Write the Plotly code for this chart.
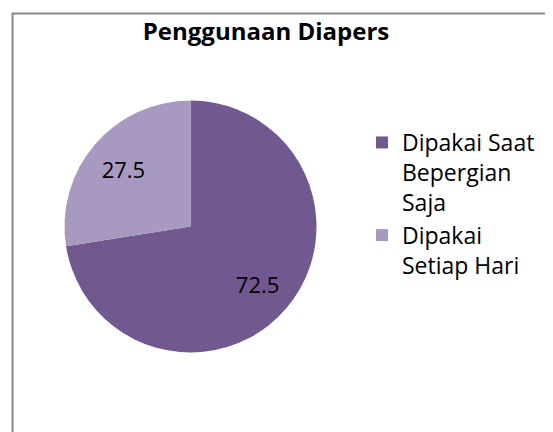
import textwrap
import plotly.graph_objects as go

# Penggunaan Diapers
kategori = ["Dipakai Saat Bepergian Saja", "Dipakai Setiap Hari"]
nilai = [72.5, 27.5]
warna = ["#71598F", "#A799BF"]

label_legend = ["<br>".join(textwrap.wrap(k, 12)) for k in kategori]

W, H = 553, 432
font = "Open Sans"
# posisi dalam piksel figure (halaman punya margin body 8px)
dom_x = [56.5 / W, 308.5 / W]
dom_y = [87.5 / H, 339.5 / H]

fig = go.Figure()
fig.add_trace(go.Pie(
    labels=label_legend,
    values=nilai,
    marker=dict(colors=warna, line=dict(width=0)),
    sort=False,
    direction="clockwise",
    rotation=0,
    textinfo="none",
    domain=dict(x=dom_x, y=dom_y),
    hoverinfo="label+value",
))
# label angka, lapisan donat transparan supaya angka agak ke luar
fig.add_trace(go.Pie(
    labels=label_legend,
    values=nilai,
    hole=0.4,
    marker=dict(colors=["rgba(0,0,0,0)"] * len(nilai), line=dict(width=0)),
    sort=False,
    direction="clockwise",
    rotation=0,
    showlegend=False,
    textinfo="value",
    textposition="inside",
    insidetextorientation="horizontal",
    textfont=dict(family=font, size=22, color="black"),
    domain=dict(x=dom_x, y=dom_y),
    hoverinfo="skip",
))

fig.update_layout(
    width=W, height=H,
    margin=dict(l=0, r=0, t=0, b=0),
    paper_bgcolor="white",
    plot_bgcolor="white",
    title=dict(text="<b>Penggunaan Diapers</b>", x=258 / W, xanchor="center",
               y=(H - 24) / H, yanchor="middle",
               font=dict(family=font, size=24, color="black")),
    legend=dict(x=354 / W, xanchor="left", y=(H - 113) / H, yanchor="top",
                valign="top", font=dict(family=font, size=23, color="black"),
                bgcolor="rgba(0,0,0,0)"),
    shapes=[dict(type="rect", xref="paper", yref="paper",
                 x0=4.5 / W, x1=1.05, y0=-0.05, y1=(H - 5.5) / H,
                 line=dict(color="#878787", width=2))],
)

fig.write_html("out.html")
